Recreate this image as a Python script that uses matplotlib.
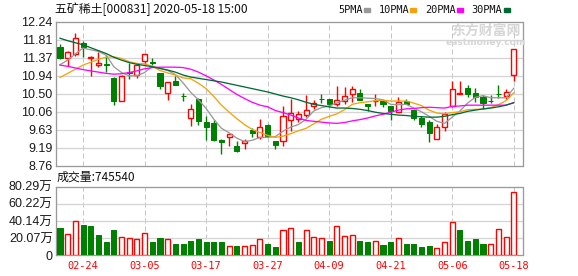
import matplotlib
matplotlib.use("Agg")
import matplotlib.pyplot as plt
import numpy as np
from matplotlib.patches import Rectangle

# daily candles, 2020-02-19 .. 2020-05-18
opens = [11.63, 11.37, 11.45, 11.73, 11.36, 11.19, 11.22, 10.88, 10.33, 11.03,
         10.94, 11.29, 11.27, 10.99, 10.52, 10.80, 10.44, 9.91, 10.38, 9.82,
         9.80, 9.37, 9.46, 9.22, 9.30, 9.63, 9.46, 9.74, 9.36, 9.36,
         9.87, 9.89, 9.99, 10.20, 10.38, 10.38, 10.24, 10.32, 10.50, 10.52,
         10.26, 10.31, 10.31, 10.21, 10.05, 10.33, 10.11, 9.91, 9.81, 9.40,
         9.70, 10.19, 10.50, 10.64, 10.52, 10.42, 10.32, 10.49, 10.43, 10.94]
highs = [11.69, 11.52, 11.97, 11.78, 11.40, 11.51, 11.43, 10.90, 10.94, 11.23,
         11.21, 11.46, 11.36, 11.00, 10.79, 10.92, 10.51, 10.25, 10.40, 9.97,
         9.87, 9.40, 9.53, 9.36, 9.40, 9.66, 9.89, 9.77, 9.36, 10.19,
         10.38, 10.09, 10.46, 10.34, 10.50, 10.38, 10.68, 10.66, 10.68, 10.60,
         10.26, 10.50, 10.32, 10.21, 10.41, 10.36, 10.12, 9.97, 9.87, 9.76,
         10.05, 10.80, 10.80, 10.70, 10.64, 10.46, 10.46, 10.70, 10.60, 11.59]
lows = [11.33, 11.17, 11.41, 11.39, 10.93, 11.15, 11.02, 10.23, 10.31, 10.86,
        10.88, 11.19, 11.20, 10.62, 10.34, 10.71, 10.33, 9.71, 9.75, 9.38,
        9.36, 9.05, 9.24, 9.08, 9.16, 9.44, 9.40, 9.46, 9.16, 9.22,
        9.60, 9.81, 9.93, 10.13, 10.28, 10.18, 10.20, 10.26, 10.29, 10.35,
        10.09, 10.20, 10.17, 9.85, 10.05, 10.24, 9.87, 9.69, 9.32, 9.40,
        9.59, 10.17, 10.48, 10.42, 10.29, 10.13, 10.27, 10.40, 10.38, 10.80]
closes = [11.36, 11.50, 11.84, 11.63, 11.38, 11.24, 11.19, 10.31, 10.93, 11.01,
          11.19, 11.45, 11.25, 10.68, 10.78, 10.72, 10.43, 10.13, 9.83, 9.69,
          9.38, 9.34, 9.52, 9.10, 9.36, 9.54, 9.70, 9.48, 9.26, 9.97,
          10.03, 10.01, 10.11, 10.28, 10.37, 10.24, 10.34, 10.45, 10.62, 10.35,
          10.21, 10.33, 10.25, 10.07, 10.29, 10.26, 9.90, 9.77, 9.54, 9.69,
          10.01, 10.62, 10.52, 10.50, 10.42, 10.27, 10.31, 10.48, 10.54, 11.59]
# volume, in 万 shares
volumes = [32.0, 25.4, 40.4, 35.8, 34.6, 24.2, 16.1, 30.0, 21.9, 20.8,
           18.5, 26.5, 16.1, 20.8, 18.5, 13.8, 13.8, 17.3, 18.5, 15.3,
           16.1, 16.1, 10.4, 10.4, 10.4, 11.5, 19.2, 13.8, 9.2, 30.0,
           32.3, 16.1, 30.0, 21.9, 20.8, 17.3, 34.6, 23.1, 24.2, 17.3,
           15.0, 17.3, 11.5, 16.1, 20.8, 12.7, 13.8, 9.2, 10.4, 8.1,
           15.0, 39.2, 30.0, 17.3, 19.6, 13.8, 12.7, 31.1, 21.9, 74.554]

ma5 = [11.20, 11.31, 11.46, 11.60, 11.56, 11.52, 11.43, 11.15, 11.01, 10.93,
       10.93, 11.01, 11.16, 11.11, 11.06, 10.96, 10.76, 10.53, 10.35, 10.14,
       9.88, 9.66, 9.55, 9.42, 9.34, 9.37, 9.44, 9.44, 9.46, 9.59,
       9.69, 9.75, 9.88, 10.08, 10.16, 10.20, 10.27, 10.34, 10.40, 10.40,
       10.39, 10.38, 10.35, 10.24, 10.23, 10.24, 10.15, 10.06, 9.95, 9.83,
       9.78, 9.93, 10.08, 10.27, 10.41, 10.45, 10.40, 10.40, 10.40, 10.63]
ma10 = [10.89, 10.99, 11.09, 11.19, 11.26, 11.33, 11.38, 11.39, 11.35, 11.27,
        11.23, 11.22, 11.16, 11.06, 11.00, 10.95, 10.88, 10.86, 10.75, 10.62,
        10.43, 10.22, 10.05, 9.89, 9.75, 9.63, 9.56, 9.49, 9.44, 9.47,
        9.53, 9.60, 9.66, 9.77, 9.88, 9.95, 10.01, 10.11, 10.24, 10.28,
        10.30, 10.33, 10.34, 10.32, 10.32, 10.32, 10.27, 10.21, 10.10, 10.03,
        10.01, 10.04, 10.06, 10.11, 10.12, 10.12, 10.16, 10.23, 10.33, 10.52]
ma20 = [11.19, 11.16, 11.12, 11.08, 11.05, 11.02, 10.99, 10.97, 10.98, 11.01,
        11.05, 11.10, 11.13, 11.14, 11.14, 11.14, 11.13, 11.09, 11.02, 10.93,
        10.83, 10.72, 10.60, 10.48, 10.38, 10.29, 10.22, 10.18, 10.09, 10.04,
        9.98, 9.91, 9.85, 9.83, 9.81, 9.79, 9.78, 9.80, 9.84, 9.87,
        9.91, 9.96, 10.00, 10.05, 10.10, 10.13, 10.14, 10.16, 10.17, 10.16,
        10.15, 10.19, 10.20, 10.22, 10.22, 10.22, 10.22, 10.22, 10.22, 10.28]
ma30 = [11.84, 11.78, 11.73, 11.68, 11.61, 11.54, 11.47, 11.38, 11.31, 11.25,
        11.21, 11.18, 11.15, 11.11, 11.07, 11.02, 10.95, 10.90, 10.87, 10.84,
        10.81, 10.78, 10.74, 10.70, 10.66, 10.62, 10.58, 10.54, 10.49, 10.44,
        10.40, 10.35, 10.29, 10.24, 10.21, 10.18, 10.15, 10.15, 10.14, 10.12,
        10.09, 10.05, 10.02, 10.00, 9.98, 9.97, 9.95, 9.94, 9.93, 9.93,
        9.95, 9.99, 10.02, 10.07, 10.10, 10.13, 10.15, 10.18, 10.22, 10.28]

date_labels = ['02-24', '03-05', '03-17', '03-27', '04-09', '04-21', '05-06', '05-18']
price_labels = ['8.76', '9.19', '9.63', '10.06', '10.50', '10.94', '11.37', '11.81', '12.24']
vol_labels = ['0', '20.07万', '40.14万', '60.22万', '80.29万']
title = '五矿稀土[000831] 2020-05-18 15:00'
last_volume = 745540

RED = '#ff0000'
GREEN = '#008000'
ma_colors = ['#999999', '#f5a20a', '#ff00ff', '#006a35']
ma_names = ['5PMA', '10PMA', '20PMA', '30PMA']
GRID = '#d4d4d4'
SPINE = '#9a9a9a'
PX = 0.72  # one pixel in points

o = np.array(opens)
h = np.array(highs)
l = np.array(lows)
c = np.array(closes)
v = np.array(volumes)
x = np.arange(len(c))
up = c >= o
prev_close = np.r_[o[0], c[:-1]]
vol_up = c >= prev_close

W, H = 578, 276
fig = plt.figure(figsize=(W / 100, H / 100), dpi=100)


def fig_box(left, top, right, bottom):
    return [left / W, 1 - bottom / H, (right - left) / W, (bottom - top) / H]


ax = fig.add_axes(fig_box(55.5, 21.7, 522.5, 165.5))
axv = fig.add_axes(fig_box(55.5, 186.7, 522.5, 255.3))

xlim = (-0.585, 60.14)
tick_idx = np.arange(3, len(c), 8)

for a in (ax, axv):
    a.set_xlim(*xlim)
    for s in a.spines.values():
        s.set_color(SPINE)
        s.set_linewidth(PX * 1.3)
    a.set_xticks(tick_idx)
    a.tick_params(length=0, pad=2)
    for t in tick_idx:
        a.axvline(t, color='#c4c4c4', lw=PX, ls=(0, (5, 3)), zorder=0)

# price panel
pticks = np.linspace(8.76, 12.24, len(price_labels))
ax.set_ylim(8.76, 12.24)
ax.set_yticks(pticks)
ax.set_yticklabels(price_labels, fontsize=9, family='Liberation Sans', color='#1a1a1a')
ax.set_xticklabels([])
for y in pticks[1:-1]:
    ax.axhline(y, color=GRID, lw=PX * 1.3, zorder=0)

bw = 0.66
# wicks
g = ~up
ax.vlines(x[g], l[g], h[g], color=GREEN, lw=PX * 1.4, zorder=2)
ax.vlines(x[up], c[up], h[up], color=RED, lw=PX * 1.4, zorder=2)
ax.vlines(x[up], l[up], o[up], color=RED, lw=PX * 1.4, zorder=2)
# bodies
ax.bar(x[g], o[g] - c[g], bottom=c[g], width=bw, color=GREEN, edgecolor=GREEN,
       lw=PX, zorder=3)
ax.bar(x[up], np.maximum(c[up] - o[up], 0.004), bottom=o[up], width=bw,
       facecolor='white', edgecolor=RED, lw=PX * 1.4, zorder=3)

for ma, col in zip([ma5, ma10, ma20, ma30], ma_colors):
    ax.plot(x, ma, color=col, lw=PX * 1.3, zorder=4)

# volume panel
vmax = 80.29
vticks = np.linspace(0, vmax, len(vol_labels))
axv.set_ylim(0, vmax)
axv.set_yticks(vticks)
axv.set_yticklabels(vol_labels, fontsize=9, family=['Liberation Sans', 'Noto Sans CJK SC'],
                    color='#1a1a1a')
for y in vticks[1:-1]:
    axv.axhline(y, color=GRID, lw=PX * 1.3, zorder=0)
axv.bar(x[~vol_up], v[~vol_up], width=bw, color=GREEN, edgecolor=GREEN, lw=PX, zorder=3)
axv.bar(x[vol_up], v[vol_up], width=bw, facecolor='white', edgecolor=RED,
        lw=PX * 1.4, zorder=3)
axv.set_xticklabels(date_labels, fontsize=7.4, family='DejaVu Sans Mono', color=RED)
axv.tick_params(axis='x', pad=4)

# texts
fig.text(55 / W, 1 - 9.5 / H, title, fontsize=8.6, family=['Noto Sans CJK SC', 'DejaVu Sans'],
         va='center', ha='left', color='#111111')
fig.text(57 / W, 1 - 177.5 / H, '成交量:%d' % last_volume, fontsize=8.6,
         family=['Noto Sans CJK SC', 'DejaVu Sans'], va='center', ha='left', color='#111111')

# MA legend
lx = 338
for name, col in zip(ma_names, ma_colors):
    t = fig.text(lx / W, 1 - 10 / H, name, fontsize=7.4, family='DejaVu Sans Mono',
                 va='center', ha='left', color='#111111')
    tw = len(name) * 6.0
    fig.patches.append(Rectangle(((lx + tw + 2) / W, 1 - 12 / H), 6 / W, 4 / H,
                                 transform=fig.transFigure, color=col))
    lx += tw + 16.5

# watermark
fig.text(486 / W, 1 - 31 / H, '东方财富网', fontsize=10, family='Noto Sans CJK SC',
         weight='bold', color='#d6d6d6', ha='center', va='center', zorder=0)
fig.text(486 / W, 1 - 42.5 / H, 'eastmoney.com', fontsize=6.6, family='DejaVu Sans',
         weight='bold', color='#d6d6d6', ha='center', va='center', zorder=0)

fig.savefig('out.png', dpi=100)
